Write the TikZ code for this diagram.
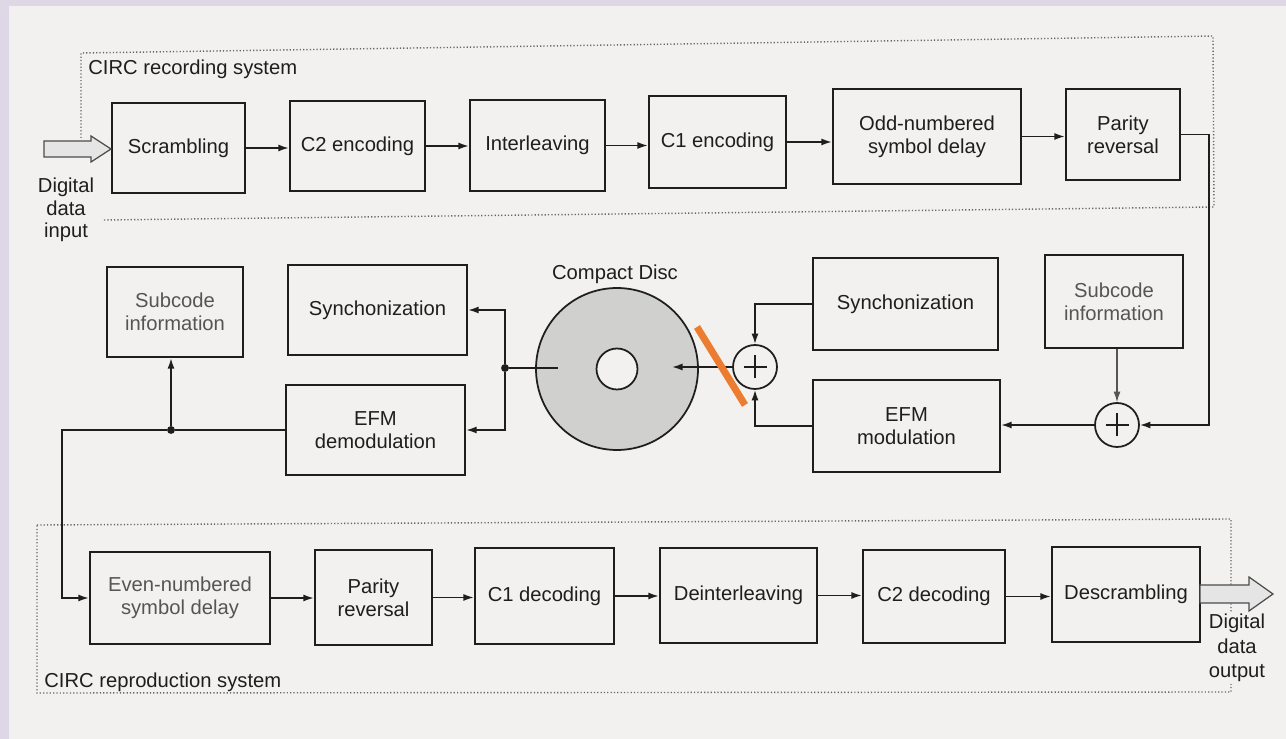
\documentclass[tikz,border=0pt]{standalone}
\usepackage{fontspec}
\setmainfont{Liberation Sans}
\usetikzlibrary{arrows.meta,calc}
\definecolor{page}{RGB}{242,241,239}
\definecolor{lav}{RGB}{222,216,230}
\definecolor{ink}{RGB}{30,30,30}
\definecolor{soft}{RGB}{85,85,85}
\definecolor{discgray}{RGB}{208,208,206}
\definecolor{orangemark}{RGB}{236,125,48}
\begin{document}
\begin{tikzpicture}[x=0.02cm,y=-0.02cm,
  font=\fontsize{11.5}{13}\selectfont,
  bx/.style 2 args={draw=ink, line width=1.3pt, fill=page, text=ink, align=center,
    inner sep=0pt, minimum width=#1*0.02cm, minimum height=#2*0.02cm},
  con/.style={draw=ink, line width=0.9pt},
  arr/.style={con, -{Latex[length=6pt,width=4pt]}},
  frame/.style={draw=gray!80!black, line width=0.8pt, dash pattern=on 0.7pt off 1.2pt},
  dotnode/.style={circle, fill=ink, inner sep=0pt, minimum size=4.5pt},
  sumnode/.style={circle, draw=ink, line width=1pt, fill=page, minimum size=0.88cm, inner sep=0pt,
    path picture={\draw[line width=0.9pt]
      ($(path picture bounding box.center)+(-0.23cm,0)$) -- ++(0.46cm,0)
      ($(path picture bounding box.center)+(0,-0.23cm)$) -- ++(0,0.46cm);}},
  blockarrow/.style={draw=gray!60!black, line width=0.7pt, fill=gray!20, line join=miter}
]
% page
\fill[page] (0,0) rectangle (1286,739);
\fill[lav] (0,0) rectangle (9,739);
\fill[lav] (0,0) rectangle (1286,6);
\useasboundingbox (0,0) rectangle (1286,739);

% frames
\draw[frame] (104,220) -- (1214,207) -- (1213,36) -- (81,53) -- (81,138);
\node[anchor=west, text=ink, inner sep=0pt] (lblrec) at (88,69) {CIRC recording system};
\draw[frame] (37,525) -- (1231,519) -- (1231,692) -- (37,693) -- cycle;
\node[anchor=west, text=ink, inner sep=0pt] (lblrep) at (44,682) {CIRC reproduction system};

% top row
\node[bx={133}{90}] (scr) at (178.5,148) {Scrambling};
\node[bx={135}{90}] (c2e) at (357.5,146) {C2 encoding};
\node[bx={135}{91}] (ilv) at (537.5,145.5) {Interleaving};
\node[bx={137}{92}] (c1e) at (717.5,142) {C1 encoding};
\node[bx={188}{95}] (odd) at (927,136.5) {Odd-numbered\\symbol delay};
\node[bx={114}{91}] (par) at (1123,134.5) {Parity\\reversal};

\draw[arr] (scr.east) -- (scr.east -| c2e.west);
\draw[arr] (c2e.east) -- (c2e.east -| ilv.west);
\draw[arr] (ilv.east) -- (ilv.east -| c1e.west);
\draw[arr] (c1e.east) -- (c1e.east -| odd.west);
\draw[arr] (odd.east) -- (odd.east -| par.west);

% input
\draw[blockarrow] (44,141) -- (91,141) -- (91,136) -- (111,149) -- (91,162) -- (91,157) -- (44,157) -- cycle;
\node[align=center, text=ink, font=\fontsize{11.5}{12.8}\selectfont] (din) at (66,210) {Digital\\data\\input};

% middle row
\node[bx={136}{90}, text=soft] (subL) at (175,312) {Subcode\\information};
\node[bx={179}{90}] (synL) at (377.5,310) {Synchonization};
\node[bx={179}{90}] (efmD) at (375.5,430) {EFM\\demodulation};
\node[bx={185}{92}] (synR) at (905.5,304) {Synchonization};
\node[bx={187}{92}] (efmM) at (906.5,426) {EFM\\modulation};
\node[bx={138}{93}, text=soft] (subR) at (1114,301.5) {Subcode\\information};

\node[circle, draw=ink, line width=1pt, fill=discgray, minimum size=3.24cm, inner sep=0pt] (disc) at (617,369) {};
\node[circle, draw=ink, line width=1pt, fill=page, minimum size=0.82cm, inner sep=0pt] (hole) at (617,369) {};
\node[text=ink] (cdlbl) at (615,274) {Compact Disc};

\node[sumnode] (addL) at (755,367) {};
\node[sumnode] (addR) at (1117,425) {};

\draw[arr] (par.east) -- ++(28,0) |- (addR.east);
\draw[arr, draw=soft, line width=0.7pt] (subR.south -| addR.north) -- (addR.north);
\draw[arr] (addR.west) -- (addR.west -| efmM.east);
\draw[arr] (efmM.west) -| (addL.south);
\draw[arr] (synR.west) -| (addL.north);
\coordinate (discin) at (672,367);
\draw[arr] (addL.west) -- (discin);

\coordinate (discout) at (558,368);
\node[dotnode] (d1) at (505,368) {};
\draw[con] (discout) -- (d1);
\draw[arr] (d1) |- (synL.east);
\draw[arr] (d1) |- (efmD.east);

\node[dotnode] (d2) at (171,430) {};
\draw[con] (efmD.west) -- (d2);
\draw[arr] (d2) -- (d2 |- subL.south);

% orange mark
\draw[orangemark, line width=0.14cm] (697,327) -- (745,405);

% bottom row
\node[bx={180}{92}, text=soft] (even) at (180,598) {Even-numbered\\symbol delay};
\node[bx={117}{95}] (parB) at (373.5,597.5) {Parity\\reversal};
\node[bx={139}{96}] (c1d) at (544.5,596) {C1 decoding};
\node[bx={157}{95}] (dil) at (738.5,595.5) {Deinterleaving};
\node[bx={142}{93}] (c2d) at (934,596.5) {C2 decoding};
\node[bx={148}{95}] (dsc) at (1126,594.5) {Descrambling};

\draw[arr] (d2) -- ++(-109,0) |- (even.west);
\draw[arr] (even.east) -- (even.east -| parB.west);
\draw[arr] (parB.east) -- (parB.east -| c1d.west);
\draw[arr] (c1d.east) -- (c1d.east -| dil.west);
\draw[arr] (dil.east) -- (dil.east -| c2d.west);
\draw[arr] (c2d.east) -- (c2d.east -| dsc.west);

% output
\draw[blockarrow] (1200,585) -- (1249,585) -- (1249,577) -- (1273,594) -- (1249,611) -- (1249,603) -- (1200,603) -- cycle;
\node[align=center, text=ink, fill=page, inner sep=1pt, font=\fontsize{11.5}{13.9}\selectfont] (dout) at (1237,648) {Digital\\data\\output};
\end{tikzpicture}
\end{document}
